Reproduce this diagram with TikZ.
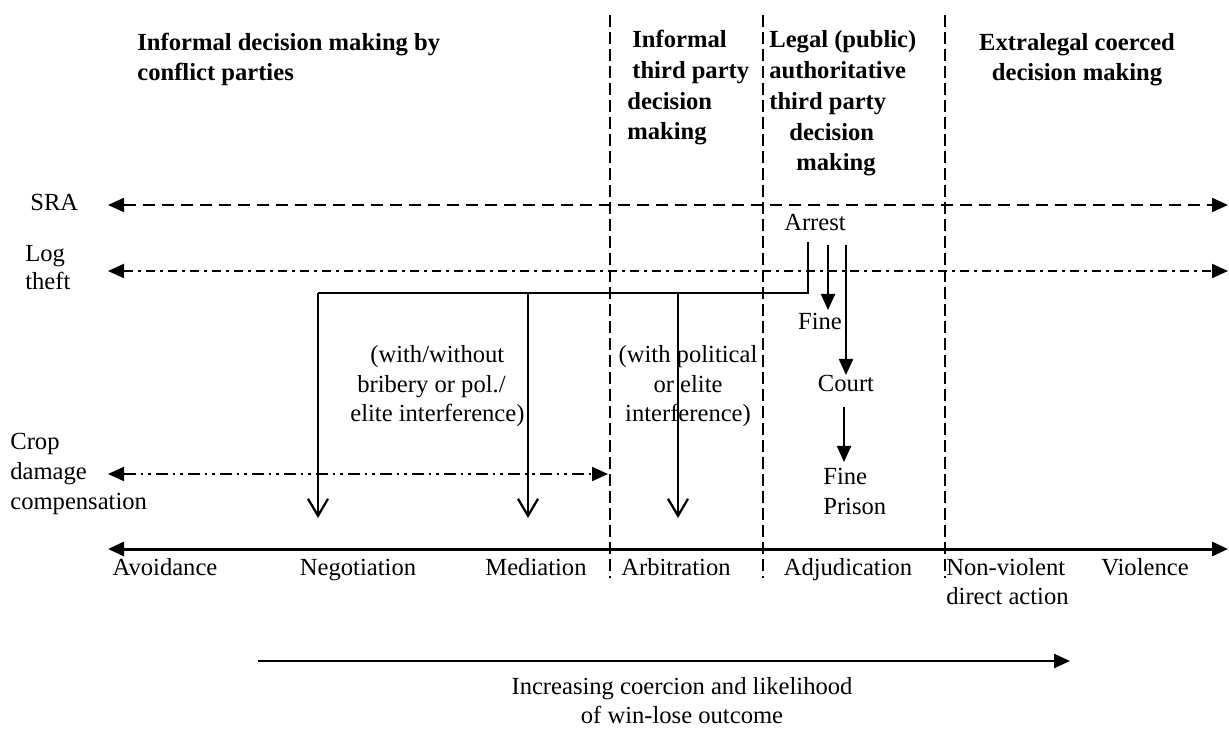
\documentclass[tikz,border=0pt]{standalone}
\usepackage{fontspec}
\setmainfont{Liberation Serif}
\usetikzlibrary{positioning}
\usetikzlibrary{arrows.meta}

\tikzset{
  txt/.style={inner sep=0pt, font=\fontsize{14}{17}\selectfont},
  hdr/.style={inner sep=0pt, align=left, font=\fontsize{14}{17.6}\selectfont\bfseries},
  zone/.style={line width=0.4mm, dash pattern=on 2.4mm off 1mm},
  tri/.tip={Triangle[length=3.2mm,width=2.8mm]},
  sra/.style={line width=0.4mm, dash pattern=on 2.4mm off 1.4mm, tri-tri},
  logline/.style={line width=0.4mm, dash pattern=on 1.9mm off 1mm on 0.5mm off 1mm, tri-tri},
  cropline/.style={line width=0.4mm, dash pattern=on 2.4mm off 1mm on 0.5mm off 1mm on 0.5mm off 1mm, tri-tri},
  down/.style={line width=0.45mm, -{Straight Barb[length=3.4mm,width=4mm,line width=0.45mm]}},
  pen/.style={line width=0.45mm, -tri}
}

\begin{document}
\begin{tikzpicture}[x=0.2mm,y=-0.2mm]
\useasboundingbox (0,0) rectangle (1229,729);

% column borders
\draw[zone] (610,15) coordinate (z1t) -- (610,578) coordinate (z1b);
\draw[zone] (763,15) coordinate (z2t) -- (763,578) coordinate (z2b);
\draw[zone] (945,15) coordinate (z3t) -- (945,578) coordinate (z3b);

% headers (base = last line)
\node[hdr, anchor=base west] (h1) at (137,81) {Informal decision making by\\conflict parties};
\node[hdr, anchor=base west] (h2) at (627,140)
{\hspace*{1mm}Informal\\\hspace*{1mm}third party\\decision\\making};
\node[hdr, anchor=base west] (h3) at (769,171)
{Legal (public)\\authoritative\\third party\\\hspace*{4mm}decision\\\hspace*{5.4mm}making};
\node[hdr, align=center, anchor=base] (h4) at (1077,81) {Extralegal coerced\\decision making};

% conflict lines
\node[txt, anchor=base west] (sra) at (30,211) {SRA};
\node[txt, anchor=base west, align=left, font=\fontsize{14}{16}\selectfont] (log) at (25,290) {Log\\theft};
\node[txt, anchor=base west, align=left] (crop) at (10,509) {Crop\\damage\\compensation};

\coordinate (sraL) at (108,205);  \coordinate (sraR) at (1228,205);
\coordinate (logL) at (108,271);  \coordinate (logR) at (1228,271);
\coordinate (cropL) at (108,474); \coordinate (cropR) at (608,474);

\draw[sra] (sraL) -- (sraR);
\draw[logline] (logL) -- (logR);
\draw[cropline] (cropL) -- (cropR);

% arrest branch
\node[txt, anchor=base] (arrest) at (815,231) {Arrest};
\node[txt, anchor=base] (fine) at (820,330) {Fine};
\node[txt, anchor=base] (court) at (846,392) {Court};
\node[txt, anchor=base west, align=left] (prison) at (823,514) {Fine\\Prison};

\coordinate (a0) at (808,242);
\coordinate (a1) at (808,293);
\coordinate (neg) at (318,293);
\coordinate (med) at (528,293);
\coordinate (arb) at (678,293);

\draw[line width=0.4mm] (a0) -- (a1) -- (neg);
\draw[down] (neg) -- (318,518);
\draw[down] (med) -- (528,518);
\draw[down] (arb) -- (678,518);

\draw[pen] (828,245) -- (828,310);
\draw[pen] (846,245) -- (846,375);
\draw[pen] (844,407) -- (844,462);

\node[txt, anchor=base west, align=left] (bribe) at (350,422)
{\hspace*{4mm}(with/without\\\hspace*{1.4mm}bribery or pol./\\elite interference)};
\node[txt, anchor=base, align=center] (polit) at (688,422)
{(with political\\or elite\\interference)};

% scale of decision making
\coordinate (axL) at (108,549); \coordinate (axR) at (1228,549);
\draw[line width=0.6mm, tri-tri] (axL) -- (axR);

\node[txt, anchor=base] (avoid) at (165,575) {Avoidance};
\node[txt, anchor=base] (nego) at (358,575) {Negotiation};
\node[txt, anchor=base] (medi) at (536,575) {Mediation};
\node[txt, anchor=base] (arbi) at (676,575) {Arbitration};
\node[txt, anchor=base] (adju) at (848,575) {Adjudication};
\node[txt, anchor=base west, align=left, font=\fontsize{14}{16.5}\selectfont] (nonv) at (946,604) {Non-violent\\direct action};
\node[txt, anchor=base] (viol) at (1145,575) {Violence};

% coercion
\coordinate (coL) at (258,661); \coordinate (coR) at (1070,661);
\draw[line width=0.5mm, -tri] (coL) -- (coR);
\node[txt, anchor=base, align=center, font=\fontsize{14}{16}\selectfont] (coerc) at (682,723)
{Increasing coercion and likelihood\\of win-lose outcome};

\end{tikzpicture}
\end{document}
